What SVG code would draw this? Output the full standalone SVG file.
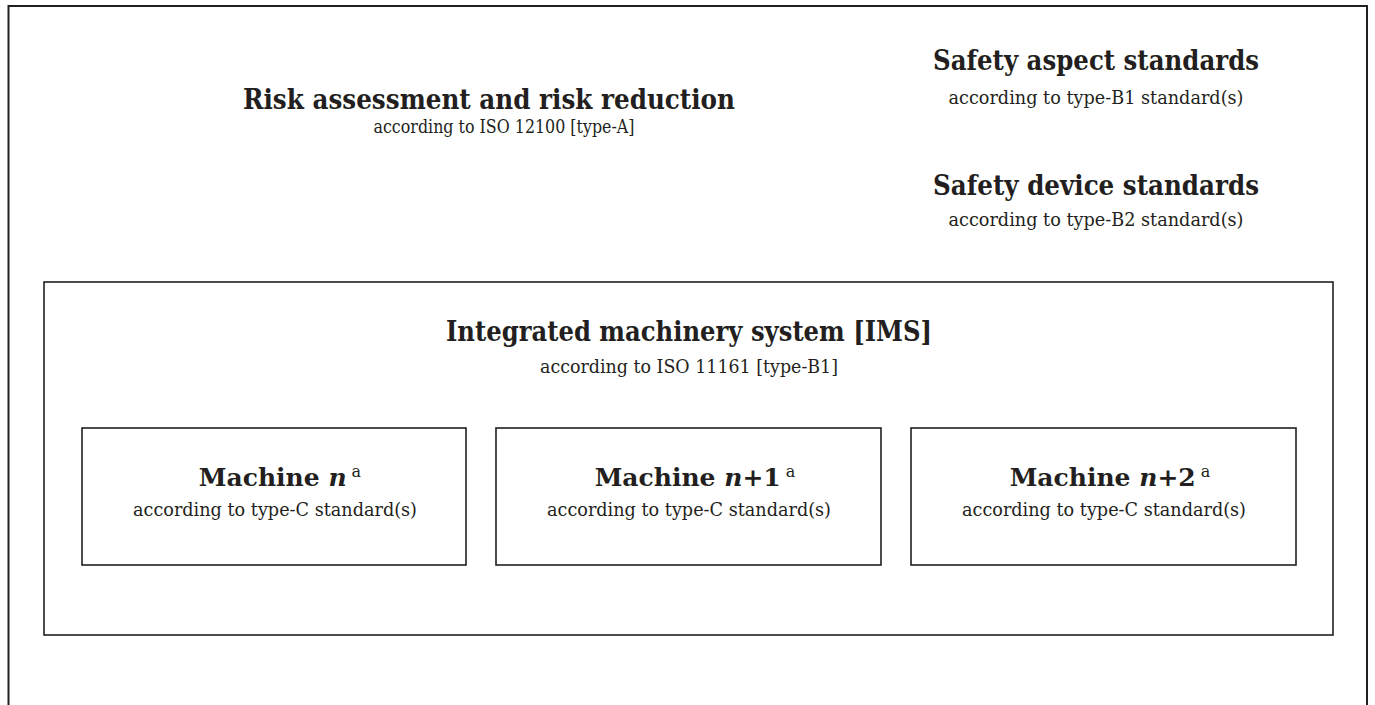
<svg xmlns="http://www.w3.org/2000/svg" width="1375" height="705" viewBox="0 0 1375 705">
  <style>
    .frame { fill: none; stroke: #231f20; stroke-width: 2; }
    .box { fill: #ffffff; stroke: #231f20; stroke-width: 1.6; }
    text { font-family: "DejaVu Serif", "Liberation Serif", serif; fill: #231f20; text-anchor: middle; }
    .h1 { font-size: 28px; font-weight: bold; }
    .h2 { font-size: 25px; font-weight: bold; }
    .sub { font-size: 18px; }
    .sup { font-size: 16px; font-weight: normal; }
    .it { font-style: italic; }
  </style>

  <!-- page frame (open at the bottom) -->
  <path class="frame" d="M8.5,705 V6 H1367 V705"/>

  <g id="risk-assessment">
    <text class="h1" x="489" y="109" textLength="492" lengthAdjust="spacingAndGlyphs">Risk assessment and risk reduction</text>
    <text class="sub" x="504" y="133" textLength="261" lengthAdjust="spacingAndGlyphs">according to ISO 12100 [type-A]</text>
  </g>

  <g id="safety-aspect">
    <text class="h1" x="1096" y="70" textLength="326" lengthAdjust="spacingAndGlyphs">Safety aspect standards</text>
    <text class="sub" x="1096" y="104" textLength="295" lengthAdjust="spacingAndGlyphs">according to type-B1 standard(s)</text>
  </g>

  <g id="safety-device">
    <text class="h1" x="1096" y="195" textLength="326" lengthAdjust="spacingAndGlyphs">Safety device standards</text>
    <text class="sub" x="1096" y="226" textLength="295" lengthAdjust="spacingAndGlyphs">according to type-B2 standard(s)</text>
  </g>

  <g id="ims">
    <rect class="box" x="44" y="282" width="1289" height="353"/>
    <text class="h1" x="689" y="341" textLength="486" lengthAdjust="spacingAndGlyphs">Integrated machinery system [IMS]</text>
    <text class="sub" x="689" y="373" textLength="298" lengthAdjust="spacingAndGlyphs">according to ISO 11161 [type-B1]</text>
  </g>

  <g id="machine-n">
    <rect class="box" x="82" y="428" width="384" height="137"/>
    <text class="h2" x="280" y="486">Machine <tspan class="it">n</tspan><tspan class="sup" dx="5" dy="-9">a</tspan></text>
    <text class="sub" x="275" y="516" textLength="284" lengthAdjust="spacingAndGlyphs">according to type-C standard(s)</text>
  </g>

  <g id="machine-n1">
    <rect class="box" x="496" y="428" width="385" height="137"/>
    <text class="h2" x="695" y="486">Machine <tspan class="it">n</tspan>+1<tspan class="sup" dx="5" dy="-9">a</tspan></text>
    <text class="sub" x="689" y="516" textLength="284" lengthAdjust="spacingAndGlyphs">according to type-C standard(s)</text>
  </g>

  <g id="machine-n2">
    <rect class="box" x="911" y="428" width="385" height="137"/>
    <text class="h2" x="1110" y="486">Machine <tspan class="it">n</tspan>+2<tspan class="sup" dx="5" dy="-9">a</tspan></text>
    <text class="sub" x="1104" y="516" textLength="284" lengthAdjust="spacingAndGlyphs">according to type-C standard(s)</text>
  </g>

  <g id="connectors"/>
</svg>
